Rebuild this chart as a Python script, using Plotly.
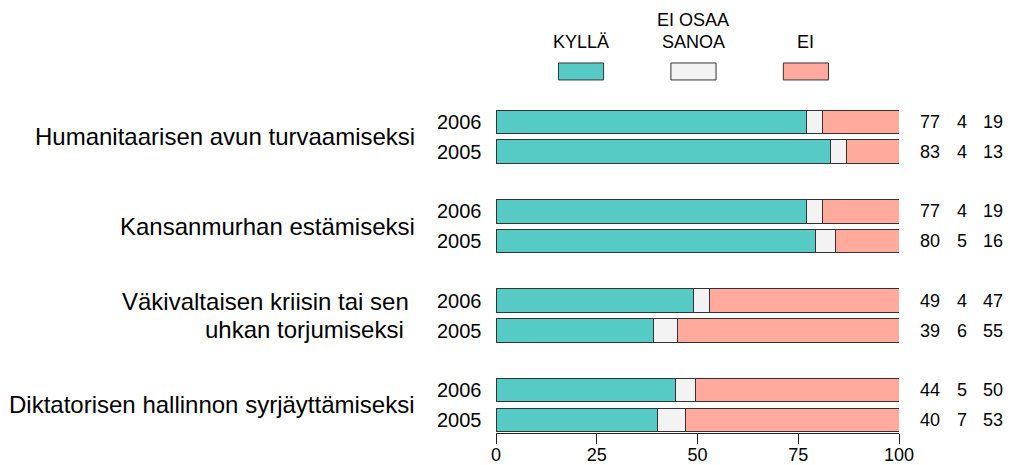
import plotly.graph_objects as go

# data
topics = [["Humanitaarisen avun turvaamiseksi"],
          ["Kansanmurhan estämiseksi"],
          ["Väkivaltaisen kriisin tai sen", "uhkan torjumiseksi"],
          ["Diktatorisen hallinnon syrjäyttämiseksi"]]
years = ["2006", "2005"]
kylla = [77, 83, 77, 80, 49, 39, 44, 40]
eos = [4, 4, 4, 5, 4, 6, 5, 7]
ei = [19, 13, 19, 16, 47, 55, 50, 53]
series_names = [["KYLLÄ"], ["EI OSAA", "SANOA"], ["EI"]]
colors = ["#56CBC5", "#F3F3F3", "#FFAA9C"]
ticks = [0, 25, 50, 75, 100]

YTOP, YBOT = -4.094, 10.44

# row positions: 3 units per topic, 1 unit between years
pos = []
for g in range(len(topics)):
    for r in range(len(years)):
        pos.append(g * 3 + r)

# scale each row to 100 so every bar fills the axis
tot = [a + b + c for a, b, c in zip(kylla, eos, ei)]
segs = [[v / t * 100 for v, t in zip(s, tot)] for s in (kylla, eos, ei)]


def px(v):  # x data -> paper
    return v / 100.0


def py(v):  # row units -> paper
    return (YBOT - v) / (YBOT - YTOP)


fig = go.Figure()
for name, vals, col in zip(series_names, segs, colors):
    fig.add_trace(go.Bar(
        x=vals, y=pos, orientation="h", name=" ".join(name),
        marker=dict(color=col, line=dict(color="#333333", width=1)),
        width=0.79, showlegend=False, hoverinfo="skip"))

ann = []
fnt = "Liberation Sans, Arial, sans-serif"
# year labels and right-hand numbers
for i, p in enumerate(pos):
    ann.append(dict(x=px(-3.0), y=py(p), text=years[i % 2], xanchor="right",
                    font=dict(size=20)))
    for cx, v in zip([107.6, 115.6, 123.3], [kylla[i], eos[i], ei[i]]):
        ann.append(dict(x=px(cx), y=py(p), text=str(v), xanchor="center",
                        font=dict(size=18)))
# topic labels (two-line label: lines ~28px apart, slightly left)
for g, lines in enumerate(topics):
    if len(lines) == 1:
        ann.append(dict(x=px(-19.5), y=py(g * 3 + 0.5), text=lines[0],
                        xanchor="right", font=dict(size=24)))
    else:
        ann.append(dict(x=px(-21.0), y=py(g * 3 + 0.03), text=lines[0],
                        xanchor="right", font=dict(size=24)))
        ann.append(dict(x=px(-22.3), y=py(g * 3 + 0.97), text=lines[1],
                        xanchor="right", font=dict(size=24)))

# legend: boxes and titles
shapes = []
for k, (name, col) in enumerate(zip(series_names, colors)):
    x0 = 15.5 + k * 27.9
    shapes.append(dict(type="rect", xref="x", yref="y", x0=x0, x1=x0 + 11.2,
                       y0=-1.98, y1=-1.41, fillcolor=col,
                       line=dict(color="#333333", width=1)))
    for j, line in enumerate(reversed(name)):
        ann.append(dict(x=px(x0 + 5.6), y=py(-2.68 - j * 0.74), text=line,
                        xanchor="center", font=dict(size=18)))

for a in ann:
    a.update(xref="paper", yref="paper", showarrow=False, yanchor="middle")
    a["font"]["family"] = fnt
    a["font"]["color"] = "black"

fig.update_layout(
    barmode="stack",
    width=1010, height=465,
    margin=dict(l=496, r=111, t=0, b=32, autoexpand=False),
    plot_bgcolor="white", paper_bgcolor="white",
    annotations=ann, shapes=shapes,
    font=dict(family=fnt, color="black"),
    xaxis=dict(range=[0, 100], tickvals=ticks, showgrid=False, zeroline=False,
               showline=True, linecolor="#222222", linewidth=1,
               ticks="outside", ticklen=10, tickcolor="#222222",
               ticklabelstandoff=-5, automargin=False,
               tickfont=dict(size=18, family=fnt, color="black")),
    yaxis=dict(range=[YBOT, YTOP], visible=False, showgrid=False,
               zeroline=False, automargin=False),
)

fig.write_html("out.html", config={"displayModeBar": False},
               post_script="document.body.style.margin='0';"
                           "document.body.style.overflow='hidden';")
